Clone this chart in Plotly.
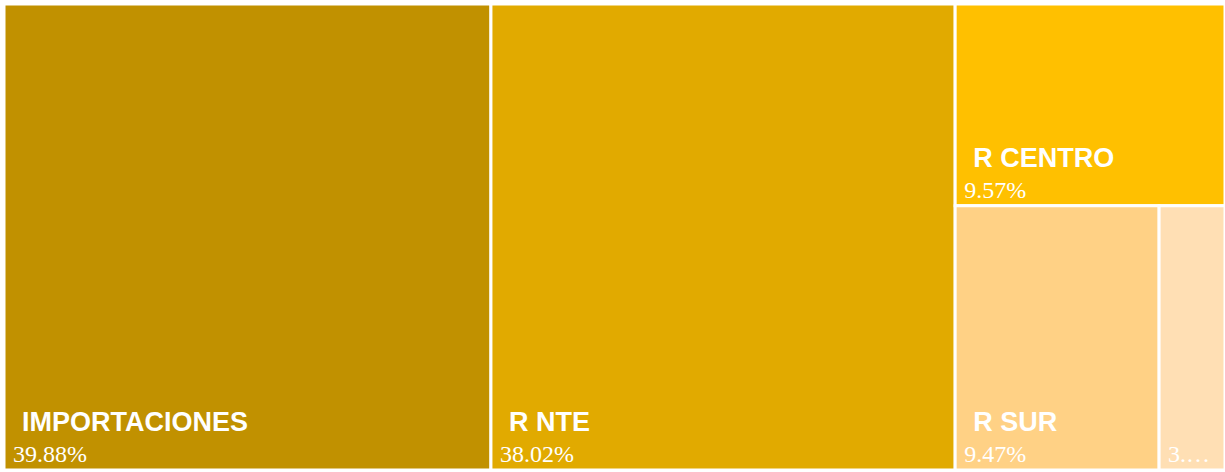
import plotly.graph_objects as go

# Share of supply by origin (percent)
regions = ["IMPORTACIONES", "R NTE", "R CENTRO", "R SUR", "OTROS"]
shares = [39.88, 38.02, 9.57, 9.47, 3.06]
colors = ["#C19100", "#E1AA00", "#FFC000", "#FFD185", "#FFDFB4"]

name_span = "<span style='font-family:Liberation Sans;font-weight:bold;font-size:27px'>&nbsp;&nbsp;%{label}</span>"
value_span = "<span style='font-family:Liberation Serif;font-size:24px'>&nbsp;%{value:.2f}%</span>"

templates = [name_span + "<br>" + value_span for _ in regions]
# the smallest tile only has room for a clipped value
templates[-1] = "<span style='font-family:Liberation Serif;font-size:24px'>&nbsp;%{value:.0f}.…</span>"

fig = go.Figure(
    go.Treemap(
        labels=regions,
        parents=[""] * len(regions),
        values=shares,
        marker=dict(colors=colors, line=dict(color="white", width=3),
                    pad=dict(t=0, l=0, r=0, b=0)),
        texttemplate=templates,
        textposition="bottom left",
        textfont=dict(color="white", size=24),
        hoverinfo="label+value",
        tiling=dict(pad=0),
        pathbar=dict(visible=False),
        sort=True,
    )
)

fig.update_layout(
    width=1225,
    height=472,
    margin=dict(l=4, r=0, t=4, b=2),
    paper_bgcolor="white",
    showlegend=False,
)

fig.write_html("out.html")
